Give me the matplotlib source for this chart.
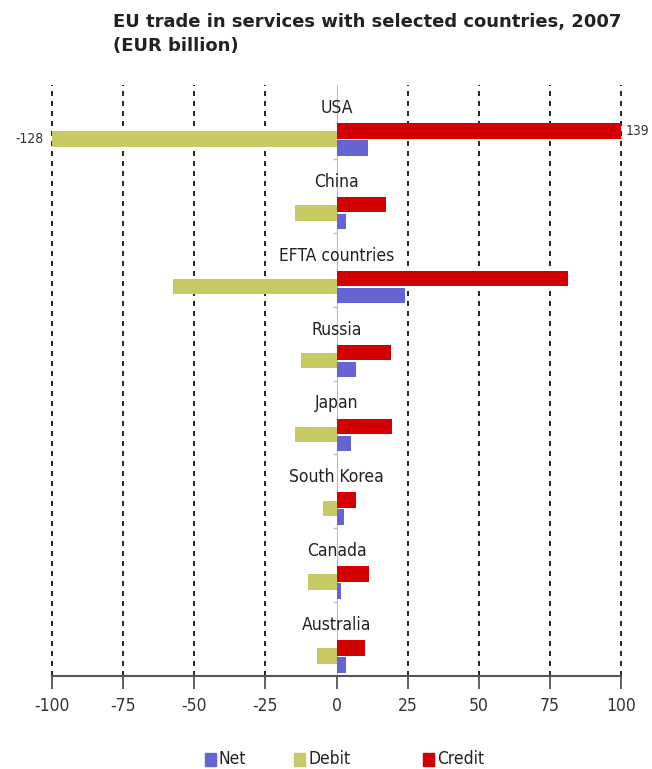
import numpy as np
import matplotlib.pyplot as plt
from matplotlib.patches import Rectangle

# EU trade in services 2007, EUR billion
countries = ['USA', 'China', 'EFTA countries', 'Russia', 'Japan',
             'South Korea', 'Canada', 'Australia']
credit = [139, 17.5, 81.5, 19.3, 19.5, 7, 11.5, 10]
debit = [-128, -14.5, -57.5, -12.4, -14.5, -4.8, -10, -6.8]
net = [11, 3.5, 24, 6.9, 5, 2.5, 1.5, 3.5]
xticks = [-100, -75, -50, -25, 0, 25, 50, 75, 100]
series = ['Net', 'Debit', 'Credit']

RED = '#d20000'
OLIVE = '#c8c864'
BLUE = '#6464d2'
colors = [BLUE, OLIVE, RED]
cond = dict(family='DejaVu Sans', stretch='condensed')

fig = plt.figure(figsize=(6.52, 7.69), dpi=100)
ax = fig.add_axes([52/652, 93/769, 569/652, 591/769])

y = np.arange(len(countries))
h = 0.21
ax.barh(y + 0.12, credit, height=h, color=RED, zorder=3)
ax.barh(y + 0.23, debit, height=h, color=OLIVE, zorder=3)
ax.barh(y + 0.35, net, height=h, color=BLUE, zorder=3)

ax.set_xlim(-100, 100)
ax.set_ylim(len(countries) - 0.5, -0.5)

# dashed gridlines at every tick except zero
for t in xticks:
    if t != 0:
        ax.axvline(t, color='black', linestyle=(0, (3, 3)), linewidth=1.2,
                   zorder=1, clip_on=False)

for i, name in enumerate(countries):
    ax.text(0, i - 0.19, name, ha='center', va='center', fontsize=12.5,
            color='#222222', zorder=4, **cond)

# values of bars that run past the axis
ax.text(-103, 0 + 0.23, str(debit[0]), ha='right', va='center', fontsize=10,
        color='#333333', clip_on=False, **cond)
ax.text(101.5, 0 + 0.12, str(credit[0]), ha='left', va='center', fontsize=10,
        color='#333333', clip_on=False, **cond)

ax.set_xticks(xticks)
ax.set_xticklabels([str(t) for t in xticks], fontsize=12.5, color='#333333', **cond)
ax.tick_params(axis='x', direction='out', length=9, width=1.2, color='#444444', pad=6)

ax.set_yticks(y[:-1] + 0.5)
ax.set_yticklabels([])
ax.tick_params(axis='y', direction='out', length=3, width=1, color='#bbbbbb')

ax.spines['top'].set_visible(False)
ax.spines['right'].set_visible(False)
ax.spines['left'].set_position(('data', 0))
ax.spines['left'].set_color('#bbbbbb')
ax.spines['left'].set_zorder(2)
ax.spines['bottom'].set_color('#555555')
ax.spines['bottom'].set_linewidth(1.5)

fig.text(113/652, 1 - 13/769,
         'EU trade in services with selected countries, 2007\n(EUR billion)',
         ha='left', va='top', fontsize=13, fontweight='bold',
         family='DejaVu Sans', color='#222222', linespacing=1.4)

# legend row along the bottom
legend_x = [205, 294, 423]
for name, c, lx in zip(series, colors, legend_x):
    fig.patches.append(Rectangle((lx/652, 1 - 766/769), 11/652, 13/769,
                                 color=c, transform=fig.transFigure, figure=fig))
    fig.text((lx + 14)/652, 1 - 759/769, name, ha='left', va='center',
             fontsize=12.5, color='#222222', **cond)

fig.savefig('out.png', dpi=100, facecolor='white')
